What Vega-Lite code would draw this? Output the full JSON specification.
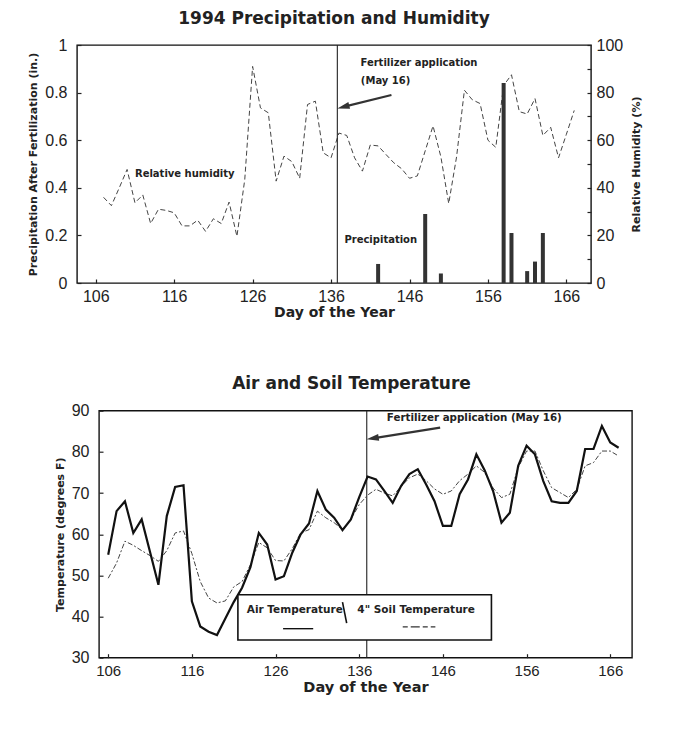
{
  "$schema": "https://vega.github.io/schema/vega-lite/v6.json",
  "background": "white",
  "padding": {"left": 27, "top": 9, "right": 5, "bottom": 5},
  "config": {
    "view": {"stroke": "#111", "strokeWidth": 1.4},
    "axis": {
      "labelFont": "Liberation Sans", "labelFontSize": 16, "labelColor": "#222",
      "titleFont": "DejaVu Sans", "titleFontWeight": "bold", "titleColor": "#222",
      "tickColor": "#222", "tickSize": -4, "tickWidth": 1.2, "domain": false, "grid": false,
      "labelFlush": false, "labelOverlap": false
    },
    "title": {"font": "DejaVu Sans", "fontWeight": "bold", "fontSize": 17, "color": "#222", "anchor": "middle"},
    "text": {"font": "DejaVu Sans", "fontWeight": "bold", "fontSize": 10, "color": "#222"}
  },
  "datasets": {
    "rh": [
      {"day":107,"rh":36},{"day":108,"rh":32.5},{"day":109,"rh":40},{"day":110,"rh":47.7},{"day":111,"rh":33.7},
      {"day":112,"rh":37},{"day":113,"rh":25},{"day":114,"rh":31},{"day":115,"rh":30.5},{"day":116,"rh":29.5},
      {"day":117,"rh":24},{"day":118,"rh":24},{"day":119,"rh":26.4},{"day":120,"rh":21.7},{"day":121,"rh":27},
      {"day":122,"rh":25},{"day":123,"rh":34},{"day":124,"rh":19.6},{"day":125,"rh":43.5},{"day":126,"rh":91},
      {"day":127,"rh":73.6},{"day":128,"rh":71.5},{"day":129,"rh":42.8},{"day":130,"rh":53.3},{"day":131,"rh":51},
      {"day":132,"rh":44},{"day":133,"rh":75},{"day":134,"rh":76.4},{"day":135,"rh":54.7},{"day":136,"rh":52.6},
      {"day":137,"rh":63},{"day":138,"rh":62},{"day":139,"rh":52.6},{"day":140,"rh":47},{"day":141,"rh":58},
      {"day":142,"rh":57.6},{"day":143,"rh":54},{"day":144,"rh":50.5},{"day":145,"rh":48},{"day":146,"rh":44},
      {"day":147,"rh":45},{"day":148,"rh":55.5},{"day":149,"rh":66},{"day":150,"rh":53},{"day":151,"rh":33.4},
      {"day":152,"rh":53},{"day":153,"rh":81},{"day":154,"rh":77},{"day":155,"rh":75.4},{"day":156,"rh":60},
      {"day":157,"rh":57},{"day":158,"rh":83},{"day":159,"rh":87.5},{"day":160,"rh":72},{"day":161,"rh":71},
      {"day":162,"rh":77.5},{"day":163,"rh":62},{"day":164,"rh":65.4},{"day":165,"rh":52.6},{"day":166,"rh":62.5},
      {"day":167,"rh":72.5}
    ],
    "precip": [
      {"day":142,"v":0.08},{"day":148,"v":0.29},{"day":150,"v":0.04},{"day":158,"v":0.84},
      {"day":159,"v":0.21},{"day":161,"v":0.05},{"day":162,"v":0.09},{"day":163,"v":0.21}
    ],
    "temp": [
      {"day":106,"air":55,"soil":49.3},{"day":107,"air":65.6,"soil":53},{"day":108,"air":68,"soil":58.3},
      {"day":109,"air":60.3,"soil":57.3},{"day":110,"air":63.6,"soil":56},{"day":111,"air":55.7,"soil":54.8},
      {"day":112,"air":47.7,"soil":53.4},{"day":113,"air":64.4,"soil":56},{"day":114,"air":71.5,"soil":60.3},
      {"day":115,"air":71.9,"soil":60.8},{"day":116,"air":43.7,"soil":55.3},{"day":117,"air":37.6,"soil":48.5},
      {"day":118,"air":36.3,"soil":44.5},{"day":119,"air":35.5,"soil":43.3},{"day":120,"air":39.5,"soil":43.8},
      {"day":121,"air":43.5,"soil":47.2},{"day":122,"air":47,"soil":48.5},{"day":123,"air":52,"soil":52.6},
      {"day":124,"air":60.3,"soil":58},{"day":125,"air":57.5,"soil":56.7},{"day":126,"air":49,"soil":53.6},
      {"day":127,"air":49.8,"soil":53.5},{"day":128,"air":55.5,"soil":56.5},{"day":129,"air":60,"soil":60.3},
      {"day":130,"air":62.6,"soil":61.1},{"day":131,"air":70.5,"soil":65.6},{"day":132,"air":66,"soil":64},
      {"day":133,"air":64,"soil":62.8},{"day":134,"air":61,"soil":61.1},{"day":135,"air":63.6,"soil":63.6},
      {"day":136,"air":69,"soil":67.2},{"day":137,"air":74,"soil":69.5},{"day":138,"air":73.3,"soil":70.9},
      {"day":139,"air":70.5,"soil":70},{"day":140,"air":67.6,"soil":69.3},{"day":141,"air":71.7,"soil":71.6},
      {"day":142,"air":74.6,"soil":73.7},{"day":143,"air":75.8,"soil":74.6},{"day":144,"air":72.1,"soil":73},
      {"day":145,"air":68,"soil":71},{"day":146,"air":62,"soil":69.7},{"day":147,"air":62,"soil":70.5},
      {"day":148,"air":69.7,"soil":73},{"day":149,"air":73.3,"soil":74.6},{"day":150,"air":79.4,"soil":76.6},
      {"day":151,"air":75.5,"soil":75},{"day":152,"air":70.5,"soil":71.2},{"day":153,"air":62.8,"soil":68.9},
      {"day":154,"air":65.2,"soil":69.7},{"day":155,"air":76.6,"soil":76.2},{"day":156,"air":81.5,"soil":80.2},
      {"day":157,"air":79.4,"soil":80.2},{"day":158,"air":72.9,"soil":75.4},{"day":159,"air":68,"soil":71.3},
      {"day":160,"air":67.6,"soil":70.1},{"day":161,"air":67.6,"soil":68.9},{"day":162,"air":70.5,"soil":70.9},
      {"day":163,"air":80.7,"soil":76.6},{"day":164,"air":80.7,"soil":77.4},{"day":165,"air":86.3,"soil":80.2},
      {"day":166,"air":82.3,"soil":80.2},{"day":167,"air":81,"soil":79}
    ]
  },
  "resolve": {"scale": {"x": "independent", "y": "independent"}},
  "bounds": "flush",
  "spacing": 127.7,
  "vconcat": [
    {
      "width": 514,
      "height": 238,
      "title": {"text": "1994 Precipitation and Humidity", "offset": 9},
      "resolve": {"scale": {"y": "independent"}},
      "layer": [
        {
          "data": {"name": "rh"},
          "mark": {"type": "line", "strokeDash": [5, 3], "strokeWidth": 1, "color": "#444"},
          "encoding": {
            "x": {"field": "day", "type": "quantitative",
                  "scale": {"domain": [104.25, 168.5], "nice": false, "zero": false},
                  "axis": {"values": [106,116,126,136,146,156,166], "title": "Day of the Year",
                           "titleFontSize": 14, "labelPadding": 9, "titlePadding": 1}},
            "y": {"field": "rh", "type": "quantitative",
                  "scale": {"domain": [0, 100], "nice": false},
                  "axis": {"orient": "right", "title": "Relative Humidity (%)", "titleFontSize": 11,
                           "titleAngle": 270, "titlePadding": 19, "labelPadding": 9,
                           "values": [0,10,20,30,40,50,60,70,80,90,100],
                           "labelExpr": "datum.value % 20 == 0 ? datum.label : ''"}}
          }
        },
        {
          "layer": [
            {
              "data": {"name": "precip"},
              "mark": {"type": "bar", "width": 4, "color": "#333"},
              "encoding": {
                "x": {"field": "day", "type": "quantitative", "scale": {"domain": [104.25, 168.5], "nice": false, "zero": false}},
                "y": {"field": "v", "type": "quantitative",
                      "scale": {"domain": [0, 1], "nice": false},
                      "axis": {"orient": "left", "title": "Precipitation After Fertilization (in.)", "titleFontSize": 11,
                               "titlePadding": 6, "labelPadding": 14,
                               "values": [0,0.1,0.2,0.3,0.4,0.5,0.6,0.7,0.8,0.9,1],
                               "labelExpr": "round(datum.value*10) % 2 == 0 ? (datum.value == 0 || datum.value == 1 ? format(datum.value, 'd') : format(datum.value, '.1f')) : ''"}}
              }
            },
            {
              "data": {"values": [{"day": 136.8}]},
              "mark": {"type": "rule", "color": "#222", "strokeWidth": 1.1},
              "encoding": {
                "x": {"field": "day", "type": "quantitative"}
              }
            },
            {
              "data": {"values": [{"day": 143.7, "day2": 137.56, "v": 0.79, "v2": 0.74}]},
              "mark": {"type": "rule", "color": "#333", "strokeWidth": 2.2},
              "encoding": {
                "x": {"field": "day", "type": "quantitative"},
                "x2": {"field": "day2"},
                "y": {"field": "v", "type": "quantitative", "scale": {"domain": [0, 1], "nice": false}},
                "y2": {"field": "v2"}
              }
            },
            {
              "data": {"values": [{"day": 137.56, "v": 0.74}]},
              "mark": {"type": "point", "shape": "M-1,0L1,-0.55L1,0.55Z", "size": 150, "angle": -14.3, "filled": true, "color": "#333", "opacity": 1},
              "encoding": {
                "x": {"field": "day", "type": "quantitative"},
                "y": {"field": "v", "type": "quantitative", "scale": {"domain": [0, 1], "nice": false}}
              }
            },
            {
              "data": {"values": [
                {"day": 111, "v": 0.456, "t": "Relative humidity"},
                {"day": 137.7, "v": 0.18, "t": "Precipitation"},
                {"day": 139.75, "v": 0.926, "t": "Fertilizer application"},
                {"day": 139.8, "v": 0.848, "t": "(May 16)"}
              ]},
              "mark": {"type": "text", "align": "left", "baseline": "middle"},
              "encoding": {
                "x": {"field": "day", "type": "quantitative"},
                "y": {"field": "v", "type": "quantitative", "scale": {"domain": [0, 1], "nice": false}},
                "text": {"field": "t"}
              }
            }
          ]
        }
      ]
    },
    {
      "bounds": "flush",
      "spacing": 0,
      "hconcat": [
        {
          "width": 22,
          "height": 10,
          "view": {"stroke": null},
          "data": {"values": []},
          "mark": {"type": "point", "opacity": 0},
          "encoding": {}
        },
        {
          "width": 533,
          "height": 247,
          "title": {"text": "Air and Soil Temperature", "offset": 10, "dx": -14},
          "layer": [
            {
              "data": {"values": [{"day": 136.9}]},
              "mark": {"type": "rule", "color": "#222", "strokeWidth": 1.1},
              "encoding": {
                "x": {"field": "day", "type": "quantitative",
                      "scale": {"domain": [104.9, 168.6], "nice": false, "zero": false},
                      "axis": {"values": [106,116,126,136,146,156,166], "title": "Day of the Year",
                               "titleFontSize": 14.5, "labelFontSize": 15, "labelPadding": 10, "titlePadding": 2}}
              }
            },
            {
              "data": {"name": "temp"},
              "mark": {"type": "line", "strokeDash": [5, 2, 2, 2], "strokeWidth": 1, "color": "#444"},
              "encoding": {
                "x": {"field": "day", "type": "quantitative"},
                "y": {"field": "soil", "type": "quantitative",
                      "scale": {"domain": [30, 90], "nice": false, "zero": false},
                      "axis": {"title": "Temperature (degrees F)", "titleFontSize": 11, "titlePadding": 5.5, "labelPadding": 14,
                               "values": [30,35,40,45,50,55,60,65,70,75,80,85,90],
                               "labelExpr": "datum.value % 10 == 0 ? datum.label : ''"}}
              }
            },
            {
              "data": {"name": "temp"},
              "mark": {"type": "line", "strokeWidth": 2.2, "color": "#111"},
              "encoding": {
                "x": {"field": "day", "type": "quantitative"},
                "y": {"field": "air", "type": "quantitative"}
              }
            },
            {
              "data": {"values": [{"day": 121.5, "day2": 151.8, "v": 34.3, "v2": 45.3}]},
              "mark": {"type": "rect", "fill": "white", "stroke": "#111", "strokeWidth": 1.6},
              "encoding": {
                "x": {"field": "day", "type": "quantitative"},
                "x2": {"field": "day2"},
                "y": {"field": "v", "type": "quantitative"},
                "y2": {"field": "v2"}
              }
            },
            {
              "data": {"values": [
                {"day": 128.3, "v": 41.5, "t": "Air Temperature"},
                {"day": 142.8, "v": 41.5, "t": "4\" Soil Temperature"}
              ]},
              "mark": {"type": "text", "align": "center", "baseline": "middle", "fontSize": 10.5},
              "encoding": {
                "x": {"field": "day", "type": "quantitative"},
                "y": {"field": "v", "type": "quantitative"},
                "text": {"field": "t"}
              }
            },
            {
              "data": {"values": [{"day": 134.0, "day2": 134.5, "v": 43.5, "v2": 38.4}]},
              "mark": {"type": "rule", "color": "#111", "strokeWidth": 1.6},
              "encoding": {
                "x": {"field": "day", "type": "quantitative"},
                "x2": {"field": "day2"},
                "y": {"field": "v", "type": "quantitative"},
                "y2": {"field": "v2"}
              }
            },
            {
              "data": {"values": [{"day": 126.9, "day2": 130.5, "v": 37.05}]},
              "mark": {"type": "rule", "color": "#111", "strokeWidth": 1.4},
              "encoding": {
                "x": {"field": "day", "type": "quantitative"},
                "x2": {"field": "day2"},
                "y": {"field": "v", "type": "quantitative"}
              }
            },
            {
              "data": {"values": [{"day": 141.2, "day2": 145.1, "v": 37.5}]},
              "mark": {"type": "rule", "color": "#333", "strokeWidth": 1.2, "strokeDash": [5, 3, 9, 3]},
              "encoding": {
                "x": {"field": "day", "type": "quantitative"},
                "x2": {"field": "day2"},
                "y": {"field": "v", "type": "quantitative"}
              }
            },
            {
              "data": {"values": [{"day": 145.67, "day2": 137.6, "v": 85.9, "v2": 83.27}]},
              "mark": {"type": "rule", "color": "#333", "strokeWidth": 2.2},
              "encoding": {
                "x": {"field": "day", "type": "quantitative"},
                "x2": {"field": "day2"},
                "y": {"field": "v", "type": "quantitative"},
                "y2": {"field": "v2"}
              }
            },
            {
              "data": {"values": [{"day": 137.6, "v": 83.27}]},
              "mark": {"type": "point", "shape": "M-1,0L1,-0.55L1,0.55Z", "size": 150, "angle": -9.1, "filled": true, "color": "#333", "opacity": 1},
              "encoding": {
                "x": {"field": "day", "type": "quantitative"},
                "y": {"field": "v", "type": "quantitative"}
              }
            },
            {
              "data": {"values": [{"day": 139.3, "v": 88.3, "t": "Fertilizer application  (May 16)"}]},
              "mark": {"type": "text", "align": "left", "baseline": "middle", "fontSize": 10.3},
              "encoding": {
                "x": {"field": "day", "type": "quantitative"},
                "y": {"field": "v", "type": "quantitative"},
                "text": {"field": "t"}
              }
            }
          ]
        }
      ]
    }
  ]
}
